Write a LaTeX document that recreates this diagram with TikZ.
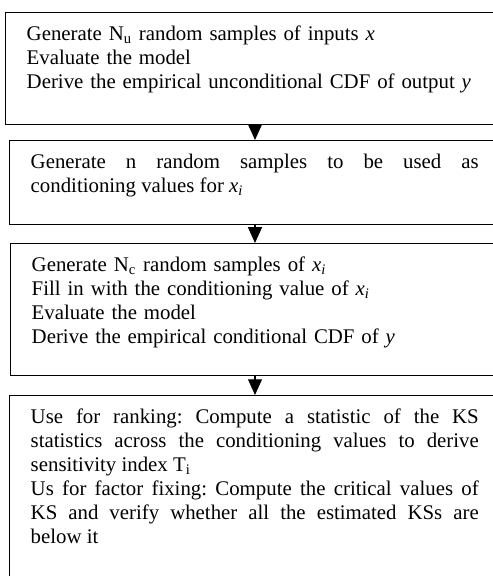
\documentclass[tikz,border=0pt]{standalone}
\usepackage{fontspec}
\setmainfont{Liberation Serif}
\frenchspacing
\usetikzlibrary{arrows.meta,positioning}

\begin{document}
\begin{tikzpicture}[x=0.5714pt,y=-0.5714pt]

\tikzset{stepbox/.style={draw,line width=0.85pt,anchor=north west,inner xsep=12pt,inner ysep=6pt,text width=256pt,align=left,text height=10pt,font=\fontsize{11.9}{13.7}\selectfont},
flow/.style={line width=0.6pt,-{Triangle[width=8pt,length=9pt]}}}

\useasboundingbox (0,0) rectangle (492,576);

% Steps
\node[stepbox,text depth=42pt] (uncond) at (5,12) {Generate N\textsubscript{u} random samples of inputs \textit{x}\\ Evaluate the model\\ Derive the empirical unconditional CDF of output \textit{y}};
\node[stepbox,align=justify,text depth=26pt] (condval) at (9,140) {Generate n random samples to be used as\linebreak conditioning values for \textit{x}\textsubscript{\textit{i}}};
\node[stepbox,text depth=53.4pt] (cond) at (10,243) {Generate N\textsubscript{c} random samples of \textit{x}\textsubscript{\textit{i}}\\ Fill in with the conditioning value of \textit{x}\textsubscript{\textit{i}}\\ Evaluate the model\\ Derive the empirical conditional CDF of \textit{y}};
\node[stepbox,align=justify,text depth=100pt] (ks) at (9,395) {Use for ranking: Compute a statistic of the KS\linebreak statistics across the conditioning values to derive\linebreak sensitivity index T\textsubscript{i}\\ Us for factor fixing: Compute the critical values of\linebreak KS and verify whether all the estimated KSs are\linebreak below it};

% Arrows
\coordinate (mid) at (255,0);
\draw[flow] (uncond.south -| mid) -- (condval.north -| mid);
\draw[flow] (condval.south -| mid) -- (cond.north -| mid);
\draw[flow] (cond.south -| mid) -- (ks.north -| mid);

\end{tikzpicture}
\end{document}
